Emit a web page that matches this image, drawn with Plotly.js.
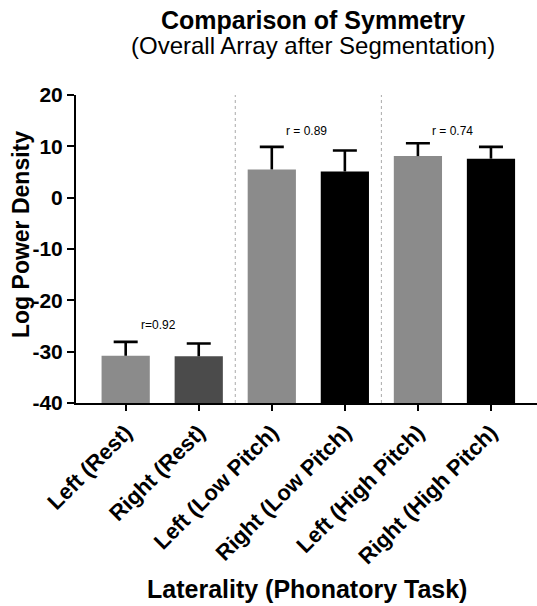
<!DOCTYPE html>
<html><head><meta charset="utf-8">
<script src="https://cdn.plot.ly/plotly-3.0.1.min.js"></script>
<style>html,body{margin:0;padding:0;background:#fff;}#chart{width:537px;height:606px;}</style>
</head><body><div id="chart"></div>
<script>
var categories = ["Left (Rest)", "Right (Rest)", "Left (Low Pitch)", "Right (Low Pitch)", "Left (High Pitch)", "Right (High Pitch)"];
var means = [-30.8, -30.9, 5.5, 5.1, 8.1, 7.6];
var sdUpper = [2.7, 2.5, 4.4, 4.1, 2.5, 2.3];
var barColors = ["#8b8b8b", "#4b4b4b", "#8b8b8b", "#000000", "#8b8b8b", "#000000"];
var yTickValues = [-40, -30, -20, -10, 0, 10, 20];
var yTickLabels = ["-40", "-30", "-20", "-10", "0", "10", "20"];
var rLabels = ["r=0.92", "r = 0.89", "r = 0.74"];
var rPositions = [0.45, 2.48, 4.47];
var rHeights = [-24.8, 12.9, 12.9];
var dividers = [1.5, 3.5];
var axisFloor = -40;

var FONT = "Liberation Sans, Arial, Helvetica, sans-serif";
var xIdx = categories.map(function(c, i){ return i; });

var bars = {
  type: "bar",
  x: xIdx,
  base: axisFloor,
  y: means.map(function(m){ return m - axisFloor; }),
  marker: {color: barColors, line: {width: 0}},
  width: 0.66,
  hoverinfo: "none"
};
var whiskers = {
  type: "scatter", mode: "markers",
  x: xIdx, y: means,
  marker: {size: 1, color: "rgba(0,0,0,0)"},
  error_y: {type: "data", symmetric: false, array: sdUpper, arrayminus: sdUpper.map(function(){return 0;}),
    color: "#000", thickness: 2.6, width: 0},
  hoverinfo: "none"
};
var caps = {
  type: "scatter", mode: "markers",
  x: xIdx, y: means.map(function(m, i){ return m + sdUpper[i]; }),
  marker: {size: 1, color: "rgba(0,0,0,0)"},
  error_y: {type: "data", array: sdUpper.map(function(){return 0;}), color: "#000", thickness: 2.6, width: 12},
  hoverinfo: "none"
};

var annotations = rLabels.map(function(t, i){
  return {x: rPositions[i], y: rHeights[i], xref: "x", yref: "y", text: t, showarrow: false,
    font: {family: FONT, size: 12, color: "#000"}};
});
annotations.push({xref: "paper", yref: "paper", x: 0.514, y: 1, yshift: 75, xanchor: "center", yanchor: "middle",
  text: "<b>Comparison of Symmetry</b>", showarrow: false,
  font: {family: FONT, size: 25, color: "#000"}});
annotations.push({xref: "paper", yref: "paper", x: 0.514, y: 1, yshift: 50, xanchor: "center", yanchor: "middle",
  text: "(Overall Array after Segmentation)", showarrow: false,
  font: {family: FONT, size: 24, color: "#000"}});
annotations.push({xref: "paper", yref: "paper", x: 0.502, y: 0, yshift: -186, xanchor: "center", yanchor: "middle",
  text: "<b>Laterality (Phonatory Task)</b>", showarrow: false,
  font: {family: FONT, size: 25, color: "#000"}});
annotations.push({xref: "paper", yref: "paper", x: 0, y: 0.5, xshift: -55, yshift: 14, xanchor: "center", yanchor: "middle",
  textangle: -90, text: "<b>Log Power Density</b>", showarrow: false,
  font: {family: FONT, size: 23, color: "#000"}});

var shapes = dividers.map(function(d){
  return {type: "line", xref: "x", yref: "paper", x0: d, x1: d, y0: 0, y1: 1,
    line: {color: "#aaaaaa", width: 1, dash: "dot"}};
});

var layout = {
  width: 537, height: 606,
  margin: {l: 76, r: 0, t: 95, b: 203},
  paper_bgcolor: "#fff", plot_bgcolor: "#fff",
  showlegend: false,
  font: {family: FONT, color: "#000"},
  xaxis: {
    range: [-0.68, 5.63],
    tickmode: "array", tickvals: xIdx, ticktext: categories,
    tickangle: -45,
    tickfont: {family: FONT, size: 22, weight: "bold", color: "#000"},
    ticks: "outside", ticklen: 6, tickwidth: 2, tickcolor: "#000",
    showline: true, linecolor: "#000", linewidth: 2,
    showgrid: false, zeroline: false
  },
  yaxis: {
    range: [-40, 20],
    tickmode: "array", tickvals: yTickValues, ticktext: yTickLabels,
    tickfont: {family: FONT, size: 21, weight: "bold", color: "#000"},
    ticks: "outside", ticklen: 7, tickwidth: 2, tickcolor: "#000",
    showline: true, linecolor: "#000", linewidth: 2,
    showgrid: false, zeroline: false
  },
  annotations: annotations,
  shapes: shapes
};

Plotly.newPlot("chart", [bars, whiskers, caps], layout, {staticPlot: true, displayModeBar: false});
</script></body></html>
